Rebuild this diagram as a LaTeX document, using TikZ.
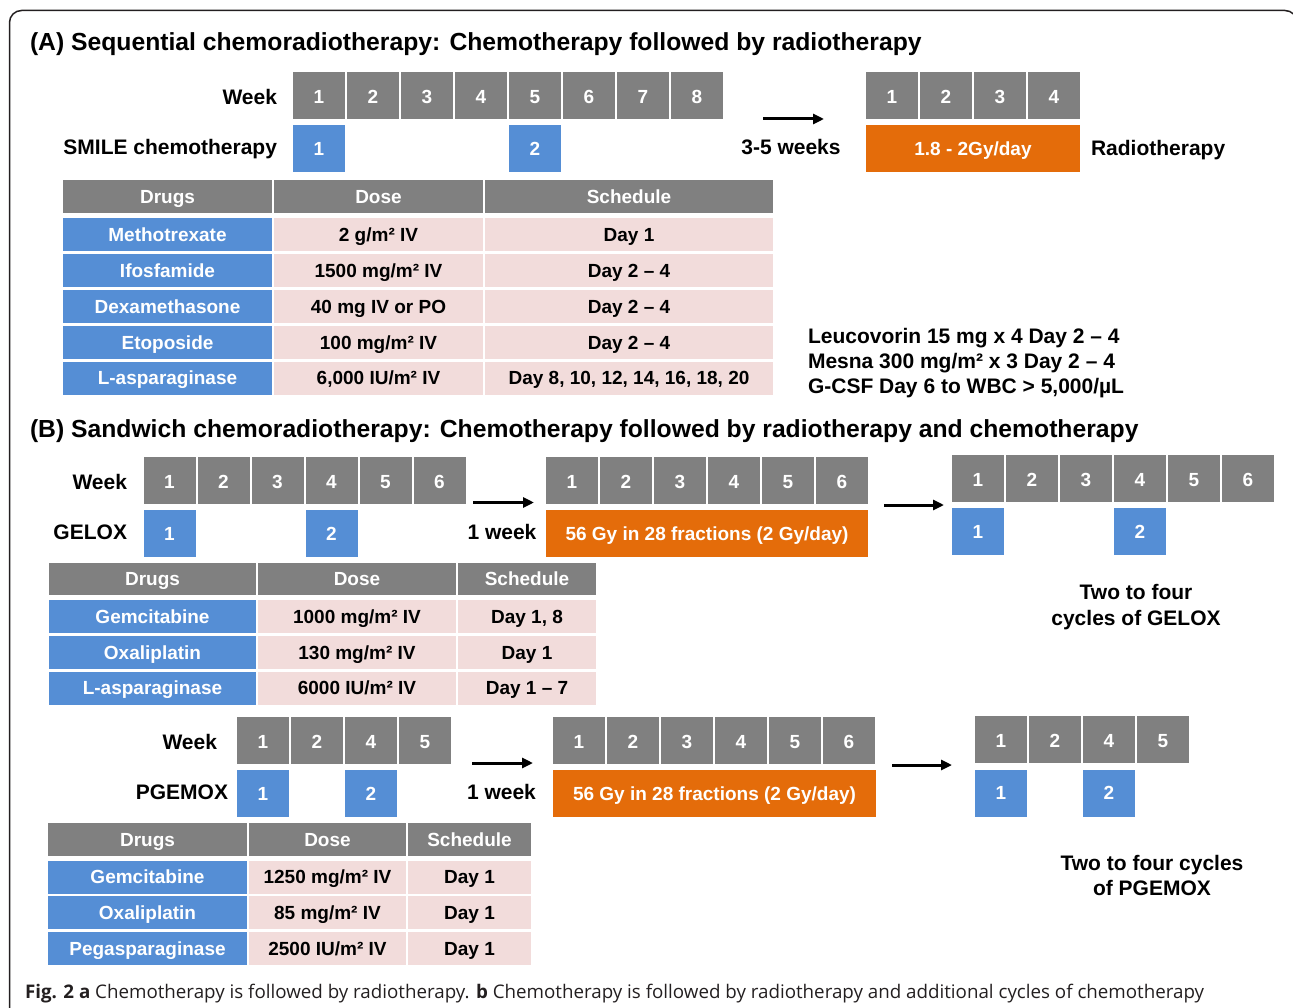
\documentclass[tikz,border=0pt]{standalone}
\usepackage{fontspec}
\setmainfont{Liberation Sans}
\newfontfamily\capfont{Open Sans}
\usetikzlibrary{arrows.meta}
\definecolor{wkgray}{RGB}{128,128,128}
\definecolor{cblue}{RGB}{85,142,213}
\definecolor{corange}{RGB}{228,108,10}
\definecolor{cpink}{RGB}{242,220,219}
\definecolor{framec}{RGB}{35,31,32}
\newcommand\cell[7]{\node[#2, minimum width={#5-#3}, minimum height={#6-#4}] (#1) at ({(#3+#5)/2},{(#4+#6)/2}) {#7};}
\begin{document}
\begin{tikzpicture}[x=1pt,y=-1pt,
 every node/.style={inner sep=0pt, outer sep=0pt},
 lab/.style={font=\fontsize{21}{25}\selectfont\bfseries, text=black},
 ttl/.style={font=\fontsize{24.7}{28}\selectfont\bfseries, text=black},
 boxt/.style={font=\fontsize{19}{22}\selectfont\bfseries, text height=13.6pt, text depth=0pt},
 wk/.style={boxt, text height=16.6pt, fill=wkgray, text=white, minimum width=52pt, minimum height=47pt},
 cy/.style={boxt, fill=cblue, text=white, minimum width=52pt, minimum height=47pt},
 rt/.style={boxt, fill=corange, text=white, minimum height=47pt},
 hd/.style={boxt, fill=wkgray, text=white},
 dg/.style={boxt, fill=cblue, text=white},
 pk/.style={boxt, fill=cpink, text=black},
 arr/.style={line width=3pt, -{Triangle[length=11pt,width=10pt]}},
]
\useasboundingbox (0,0) rectangle (1293,1008);
\draw[framec, line width=1.5pt, rounded corners=12pt] (9.5,1030) -- (9.5,10.5) -- (1297,10.5) -- (1297,1030);

% ---------------- (A)
\node[ttl, anchor=base west] (ta) at (30,51) {(A) Sequential chemoradiotherapy: Chemotherapy followed by radiotherapy};
\node[lab, anchor=base east] (awl) at (277,104.5) {Week};
\node[lab, anchor=base east] (asl) at (277,155) {SMILE chemotherapy};
\foreach \i in {1,...,8} \node[wk] (aw\i) at ({319+54*(\i-1)},95.5) {\i};
\node[cy] (ac1) at (319,148.5) {1};
\node[cy] (ac2) at (535,148.5) {2};
\coordinate (aa1) at (763,119);
\coordinate (aa2) at (824,119);
\draw[arr] (aa1) -- (aa2);
\node[lab, anchor=base] (agap) at (791,155) {3-5 weeks};
\foreach \i in {1,...,4} \node[wk] (ar\i) at ({892+54*(\i-1)},95.5) {\i};
\node[rt, minimum width=214pt] (arad) at (973,148.5) {1.8 - 2Gy/day};
\node[lab, anchor=base west] (arl) at (1091,155.5) {Radiotherapy};

\cell{ah1}{hd}{63}{180.5}{272}{213}{Drugs}
\cell{ah2}{hd}{274}{180.5}{483}{213}{Dose}
\cell{ah3}{hd}{485}{180.5}{773}{213}{Schedule}
\cell{a11}{dg}{63}{218.5}{272}{251.5}{Methotrexate}
\cell{a12}{pk}{274}{218.5}{483}{251.5}{2 g/m² IV}
\cell{a13}{pk}{485}{218.5}{773}{251.5}{Day 1}
\cell{a21}{dg}{63}{254.3}{272}{287.3}{Ifosfamide}
\cell{a22}{pk}{274}{254.3}{483}{287.3}{1500 mg/m² IV}
\cell{a23}{pk}{485}{254.3}{773}{287.3}{Day 2 – 4}
\cell{a31}{dg}{63}{290}{272}{323}{Dexamethasone}
\cell{a32}{pk}{274}{290}{483}{323}{40 mg IV or PO}
\cell{a33}{pk}{485}{290}{773}{323}{Day 2 – 4}
\cell{a41}{dg}{63}{325.8}{272}{358.8}{Etoposide}
\cell{a42}{pk}{274}{325.8}{483}{358.8}{100 mg/m² IV}
\cell{a43}{pk}{485}{325.8}{773}{358.8}{Day 2 – 4}
\cell{a51}{dg}{63}{361.5}{272}{394.5}{L-asparaginase}
\cell{a52}{pk}{274}{361.5}{483}{394.5}{6,000 IU/m² IV}
\cell{a53}{pk}{485}{361.5}{773}{394.5}{Day 8, 10, 12, 14, 16, 18, 20}

\node[lab, anchor=north west, align=left] (anote) at (808,328.5) {Leucovorin 15 mg x 4 Day 2 – 4\\Mesna 300 mg/m² x 3 Day 2 – 4\\G-CSF Day 6 to WBC > 5,000/µL};

% ---------------- (B)
\node[ttl, anchor=base west] (tb) at (30,437) {(B) Sandwich chemoradiotherapy: Chemotherapy followed by radiotherapy and chemotherapy};

% GELOX
\node[lab, anchor=base east] (bwl) at (127,489.5) {Week};
\node[lab, anchor=base east] (bgl) at (127,539) {GELOX};
\foreach \i in {1,...,6} \node[wk] (bw\i) at ({169.5+54*(\i-1)},480.5) {\i};
\node[cy] (bc1) at (169.5,533.5) {1};
\node[cy] (bc2) at (331.5,533.5) {2};
\coordinate (ba1) at (473,502.5);
\coordinate (ba2) at (534,502.5);
\draw[arr] (ba1) -- (ba2);
\node[lab, anchor=base] (bgap) at (502,539.5) {1 week};
\foreach \i in {1,...,6} \node[wk] (br\i) at ({572+54*(\i-1)},480.5) {\i};
\node[rt, minimum width=322pt] (brad) at (707,533.5) {56 Gy in 28 fractions (2 Gy/day)};
\coordinate (bb1) at (884,505);
\coordinate (bb2) at (944,505);
\draw[arr] (bb1) -- (bb2);
\foreach \i in {1,...,6} \node[wk] (bx\i) at ({978+54*(\i-1)},478.5) {\i};
\node[cy] (bd1) at (978,531.5) {1};
\node[cy] (bd2) at (1140,531.5) {2};
\node[lab, anchor=north, align=center, font=\fontsize{21}{26}\selectfont\bfseries] (bnote) at (1136,584.5) {Two to four\\cycles of GELOX};

\cell{bh1}{hd}{49}{563}{256}{595}{Drugs}
\cell{bh2}{hd}{258}{563}{456}{595}{Dose}
\cell{bh3}{hd}{458}{563}{596}{595}{Schedule}
\cell{b11}{dg}{49}{600}{256}{633}{Gemcitabine}
\cell{b12}{pk}{258}{600}{456}{633}{1000 mg/m² IV}
\cell{b13}{pk}{458}{600}{596}{633}{Day 1, 8}
\cell{b21}{dg}{49}{635.8}{256}{668.8}{Oxaliplatin}
\cell{b22}{pk}{258}{635.8}{456}{668.8}{130 mg/m² IV}
\cell{b23}{pk}{458}{635.8}{596}{668.8}{Day 1}
\cell{b31}{dg}{49}{671.6}{256}{704.6}{L-asparaginase}
\cell{b32}{pk}{258}{671.6}{456}{704.6}{6000 IU/m² IV}
\cell{b33}{pk}{458}{671.6}{596}{704.6}{Day 1 – 7}

% PGEMOX
\node[lab, anchor=base east] (cwl) at (217,749.5) {Week};
\node[lab, anchor=base east] (cpl) at (228,799.5) {PGEMOX};
\foreach \i/\t in {1/1,2/2,3/4,4/5} \node[wk] (cw\i) at ({263+54*(\i-1)},740.5) {\t};
\node[cy] (cc1) at (263,793.5) {1};
\node[cy] (cc2) at (371,793.5) {2};
\coordinate (ca1) at (472,763);
\coordinate (ca2) at (533,763);
\draw[arr] (ca1) -- (ca2);
\node[lab, anchor=base] (cgap) at (501.5,799.5) {1 week};
\foreach \i in {1,...,6} \node[wk] (cr\i) at ({579+54*(\i-1)},740.5) {\i};
\node[rt, minimum width=323pt] (crad) at (714.5,793.5) {56 Gy in 28 fractions (2 Gy/day)};
\coordinate (cb1) at (892,765);
\coordinate (cb2) at (952,765);
\draw[arr] (cb1) -- (cb2);
\foreach \i/\t in {1/1,2/2,3/4,4/5} \node[wk] (cx\i) at ({1001+54*(\i-1)},739.5) {\t};
\node[cy] (cd1) at (1001,793) {1};
\node[cy] (cd2) at (1109,793) {2};
\node[lab, anchor=north, align=center, font=\fontsize{21}{25}\selectfont\bfseries] (cnote) at (1152,855.5) {Two to four cycles\\of PGEMOX};

\cell{ch1}{hd}{48}{823}{247}{855.5}{Drugs}
\cell{ch2}{hd}{249}{823}{406}{855.5}{Dose}
\cell{ch3}{hd}{408}{823}{531}{855.5}{Schedule}
\cell{c11}{dg}{48}{860.5}{247}{893.5}{Gemcitabine}
\cell{c12}{pk}{249}{860.5}{406}{893.5}{1250 mg/m² IV}
\cell{c13}{pk}{408}{860.5}{531}{893.5}{Day 1}
\cell{c21}{dg}{48}{896}{247}{929}{Oxaliplatin}
\cell{c22}{pk}{249}{896}{406}{929}{85 mg/m² IV}
\cell{c23}{pk}{408}{896}{531}{929}{Day 1}
\cell{c31}{dg}{48}{931.8}{247}{964.8}{Pegasparaginase}
\cell{c32}{pk}{249}{931.8}{406}{964.8}{2500 IU/m² IV}
\cell{c33}{pk}{408}{931.8}{531}{964.8}{Day 1}

% caption
\node[anchor=base west, font=\capfont\fontsize{18.75}{22}\selectfont, text=framec] (cap) at (25,998.5) {\textbf{Fig. 2 a} Chemotherapy is followed by radiotherapy. \textbf{b} Chemotherapy is followed by radiotherapy and additional cycles of chemotherapy};
\end{tikzpicture}
\end{document}
